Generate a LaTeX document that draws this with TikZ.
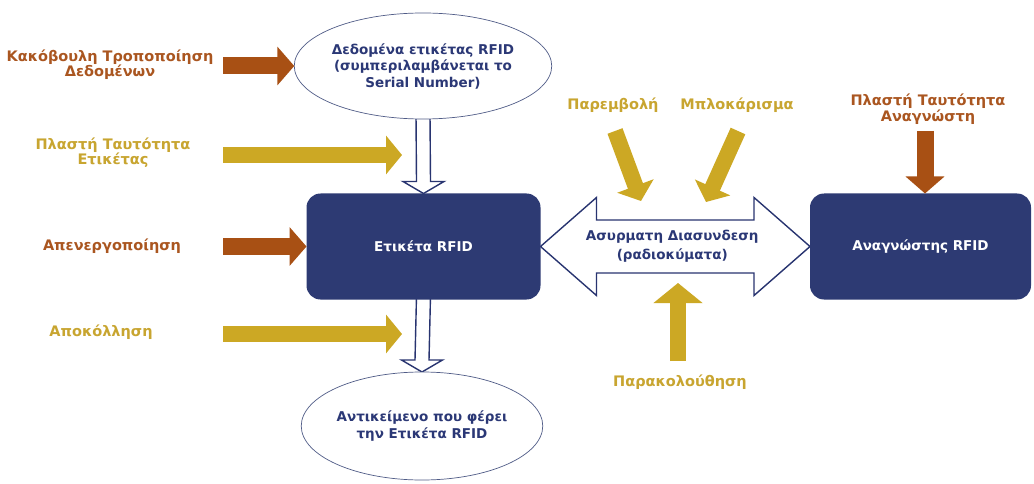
\documentclass[tikz,border=0pt]{standalone}
\usepackage{fontspec}
\setmainfont{DejaVu Sans}
\usetikzlibrary{arrows.meta,shapes.geometric,calc}
\definecolor{navy}{RGB}{45,58,115}
\definecolor{hollowc}{RGB}{40,52,112}
\definecolor{brn}{RGB}{168,80,20}
\definecolor{gld}{RGB}{204,168,36}
\definecolor{brntxt}{RGB}{170,86,32}
\definecolor{gldtxt}{RGB}{200,165,48}
\definecolor{elltxt}{RGB}{43,56,118}
\definecolor{ellline}{RGB}{80,92,135}
\pgfdeclarelayer{bg}
\pgfsetlayers{bg,main}
\tikzset{
  lab/.style={font=\bfseries\fontsize{14.5}{15.5}\selectfont, align=center, inner sep=0pt},
  brownlab/.style={lab, text=brntxt},
  goldlab/.style={lab, text=gldtxt},
  ell/.style={ellipse, draw=ellline, line width=0.7pt, fill=white, text=elltxt, align=center,
    font=\bfseries\fontsize{13.5}{16.5}\selectfont, inner sep=0pt, outer sep=0pt},
  blk/.style={rectangle, rounded corners=14pt, fill=navy, text=white,
    font=\bfseries\fontsize{13.5}{16}\selectfont, inner sep=0pt, outer sep=0pt},
  midtext/.style={text=elltxt, align=center, font=\bfseries\fontsize{13.5}{19}\selectfont, inner sep=0pt},
  brownarr/.style={draw=brn, line width=17pt, -{Triangle[width=38pt,length=17pt]}},
  goldarr/.style={draw=gld, line width=16pt, -{Triangle[width=38pt,length=16pt]}},
  hollow/.style={draw=hollowc, line width=1.4pt, fill=white, line join=miter},
}
\begin{document}
\begin{tikzpicture}[x=1pt,y=-1pt]
\path[use as bounding box] (0,0) rectangle (1034,484);

% main nodes
\node[ell, minimum width=232pt, minimum height=106pt] (data) at (423,66)
  {Δεδομένα ετικέτας RFID\\(συμπεριλαμβάνεται το\\Serial Number)};
\node[blk, minimum width=234pt, minimum height=106pt] (tag) at (423.5,246.5) {Ετικέτα RFID};
\node[blk, minimum width=221pt, minimum height=106pt] (reader) at (920.5,246.5) {Αναγνώστης RFID};
\node[ell, minimum width=236pt, minimum height=108pt] (obj) at (422,426)
  {Αντικείμενο που φέρει\\την Ετικέτα RFID};
\node[midtext] (wl) at ($(tag.east)!0.5!(reader.west)+(-3,0)$) {Ασυρματη Διασυνδεση\\(ραδιοκύματα)};

% labels
\node[brownlab] (l1) at (110,64.5) {Κακόβουλη Τροποποίηση\\Δεδομένων};
\node[goldlab] (l2) at (113,152.5) {Πλαστή Ταυτότητα\\Ετικέτας};
\node[brownlab] (l3) at (112,246) {Απενεργοποίηση};
\node[goldlab] (l4) at (101,332) {Αποκόλληση};
\node[goldlab] (l5) at (613,105) {Παρεμβολή};
\node[goldlab] (l6) at (737,105) {Μπλοκάρισμα};
\node[brownlab] (l7) at (928,109) {Πλαστή Ταυτότητα\\Αναγνώστη};
\node[goldlab] (l8) at (680,382) {Παρακολούθηση};

% connector end points
\coordinate (s1) at (223,66);
\coordinate (s2) at (223,155);
\coordinate (e2) at (402,155);
\coordinate (s3) at (223,246.5);
\coordinate (s4) at (223,334);
\coordinate (e4) at (402,334);
\coordinate (s5) at (615,131);
\coordinate (e5) at (641,201);
\coordinate (s6) at (738,131);
\coordinate (e6) at (706,202);
\coordinate (s7) at (925,131);
\coordinate (s8) at (678,361);
\coordinate (e8) at (678,283);

\begin{pgfonlayer}{bg}
\fill[white] (0,0) rectangle (1034,484);
% hollow arrow: data -> tag
\draw[hollow] ($(data.south)+(-7,-4)$) -- ($(tag.north)+(-7,-12)$) -- ++(-13.5,0)
  -- (tag.north) -- ++(20.5,-12) -- ++(-13.5,0) -- ($(data.south)+(7,-4)$);
% hollow arrow: tag -> obj
\draw[hollow] ($(tag.south)+(-7,-4)$) -- ($(obj.north)+(-7,-12)$) -- ++(-13.5,0)
  -- (obj.north) -- ++(20.5,-12) -- ++(-13.5,0) -- ($(tag.south)+(7,-4)$);
% double hollow arrow: tag <-> reader
\draw[hollow] (tag.east) -- ++(56,-49) -- ++(0,22.5) -- ($(reader.west)+(-56,-26.5)$)
  -- ++(0,-22.5) -- (reader.west) -- ++(-56,49) -- ++(0,-22.5)
  -- ($(tag.east)+(56,26.5)$) -- ++(0,22.5) -- cycle;
\end{pgfonlayer}

% threat arrows
\draw[brownarr] (s1) -- (data.west);
\draw[goldarr] (s2) -- (e2);
\draw[brownarr] (s3) -- (tag.west);
\draw[goldarr] (s4) -- (e4);
\draw[goldarr] (s5) -- (e5);
\draw[goldarr] (s6) -- (e6);
\draw[brownarr] (s7) -- (s7 |- reader.north);
\draw[goldarr, -{Triangle[width=48pt,length=20pt]}] (s8) -- (e8);
\end{tikzpicture}
\end{document}
